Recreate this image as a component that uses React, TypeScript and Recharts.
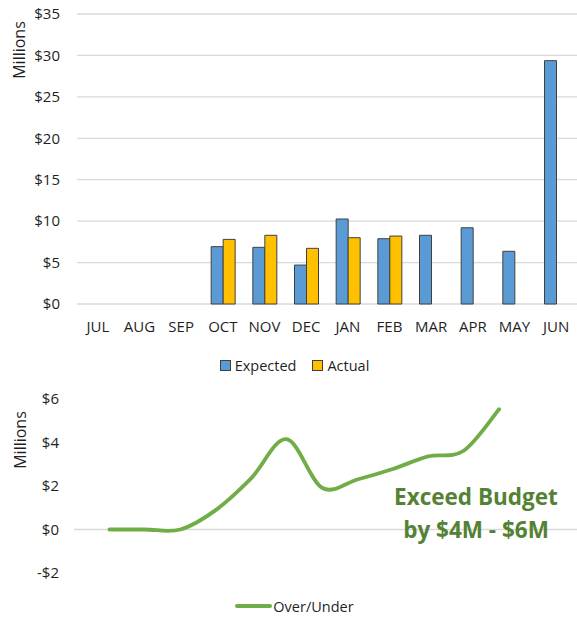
import React from 'react';
import { BarChart, Bar, LineChart, Line, XAxis, YAxis, CartesianGrid, Legend, ReferenceLine, Label } from 'recharts';

const months = ['JUL', 'AUG', 'SEP', 'OCT', 'NOV', 'DEC', 'JAN', 'FEB', 'MAR', 'APR', 'MAY', 'JUN'];
const expected = [null, null, null, 6.92, 6.84, 4.7, 10.26, 7.88, 8.29, 9.2, 6.36, 29.37];
const actual = [null, null, null, 7.8, 8.29, 6.72, 8.0, 8.2, null, null, null, null];
const overUnder = [0, 0, 0, 0.89, 2.35, 4.15, 1.92, 2.3, 2.78, 3.36, 3.62, 5.53];
const barTicks = [0, 5, 10, 15, 20, 25, 30, 35];
const lineTicks = [-2, 0, 2, 4, 6];
const calloutLines = ['Exceed Budget', 'by $4M - $6M'];

const BLUE = '#5B9BD5';
const GOLD = '#FFC000';
const GREEN = '#70AD47';
const DARK_GREEN = '#548235';
const TEXT = '#1f1f1f';
const GRID = '#d9d9d9';
const FONT = '"Open Sans", "Noto Sans", sans-serif';

const barData = months.map((m, i) => ({ month: m, Expected: expected[i], Actual: actual[i] }));
const lineData = months.map((m, i) => ({ idx: i, month: m, 'Over/Under': overUnder[i] }));

// Excel-like smoothed line (Catmull-Rom, 1/6 tangents)
const excelCurve = (context: any) => {
  let pts: number[][] = [];
  return {
    areaStart() {},
    areaEnd() {},
    lineStart() { pts = []; },
    point(x: number, y: number) { pts.push([+x, +y]); },
    lineEnd() {
      if (!pts.length) return;
      context.moveTo(pts[0][0], pts[0][1]);
      for (let i = 0; i < pts.length - 1; i++) {
        const p0 = pts[i - 1] || pts[i];
        const p1 = pts[i];
        const p2 = pts[i + 1];
        const p3 = pts[i + 2] || p2;
        context.bezierCurveTo(
          p1[0] + (p2[0] - p0[0]) / 6, p1[1] + (p2[1] - p0[1]) / 6,
          p2[0] - (p3[0] - p1[0]) / 6, p2[1] - (p3[1] - p1[1]) / 6,
          p2[0], p2[1]
        );
      }
    },
  };
};

const money = (v: number) => (v < 0 ? `-$${-v}` : `$${v}`);

const BarLegend = () => (
  <div style={{ display: 'flex', justifyContent: 'center', alignItems: 'center', height: 20, paddingLeft: 12, fontFamily: FONT, fontSize: 14.5, color: TEXT }}>
    {[['Expected', BLUE], ['Actual', GOLD]].map(([name, c]) => (
      <div key={name} style={{ display: 'flex', alignItems: 'center', margin: '0 8px' }}>
        <span style={{ display: 'inline-block', width: 9, height: 9, background: c, border: '1px solid #404040', marginRight: 4 }} />
        <span>{name}</span>
      </div>
    ))}
  </div>
);

const LineLegend = () => (
  <div style={{ display: 'flex', justifyContent: 'center', alignItems: 'center', height: 20, paddingLeft: 12, fontFamily: FONT, fontSize: 14.5, color: TEXT }}>
    <span style={{ display: 'inline-block', width: 37, height: 3.5, background: GREEN, borderRadius: 2, marginRight: 1 }} />
    <span>Over/Under</span>
  </div>
);

const millions = (x: number, y: number) => () => (
  <text x={x} y={y} transform={`rotate(-90 ${x} ${y})`} textAnchor="middle" dominantBaseline="central" fontFamily={FONT} fontSize={16} fill={TEXT}>
    Millions
  </text>
);

export default function App() {
  return (
    <div style={{ position: 'absolute', left: 0, top: 0, width: 577, height: 618, background: '#fff' }}>
      <BarChart width={577} height={385} data={barData} margin={{ top: 14, right: 0, left: 0, bottom: 10 }} barCategoryGap="22%" barGap={0}>
        <CartesianGrid vertical={false} stroke={GRID} strokeWidth={1.3} />
        <XAxis dataKey="month" height={51} axisLine={false} tickLine={false} tickSize={0} tickMargin={17} interval={0}
          tick={{ fill: TEXT, fontSize: 15, fontFamily: FONT }} />
        <YAxis width={77} domain={[0, 35]} ticks={barTicks} axisLine={false} tickLine={false} tickSize={0} tickMargin={17}
          tickFormatter={money} tick={{ fill: TEXT, fontSize: 15, fontFamily: FONT }}>
          <Label content={millions(18.5, 50)} />
        </YAxis>
        <Legend verticalAlign="bottom" content={<BarLegend />} />
        <Bar dataKey="Expected" fill={BLUE} stroke="#404040" strokeWidth={1} isAnimationActive={false} />
        <Bar dataKey="Actual" fill={GOLD} stroke="#404040" strokeWidth={1} isAnimationActive={false} />
      </BarChart>
      <LineChart width={577} height={233} data={lineData} margin={{ top: 14, right: 0, left: 0, bottom: 2 }}>
        <XAxis dataKey="idx" type="number" domain={[-1, 13.2]} height={23} axisLine={false} tickLine={false} tick={false} />
        <YAxis width={74} domain={[-2, 6]} ticks={lineTicks} axisLine={false} tickLine={false} tickSize={0} tickMargin={15}
          tickFormatter={money} tick={{ fill: TEXT, fontSize: 15, fontFamily: FONT }}>
          <Label content={millions(19.5, 55)} />
        </YAxis>
        <ReferenceLine y={0} stroke={GRID} strokeWidth={1.3} />
        <Legend verticalAlign="bottom" content={<LineLegend />} />
        <Line dataKey="Over/Under" type={excelCurve as any} stroke={GREEN} strokeWidth={3.8} strokeLinecap="round" dot={false} activeDot={false} isAnimationActive={false} />
      </LineChart>
      <svg width={577} height={618} style={{ position: 'absolute', left: 0, top: 0, pointerEvents: 'none' }}>
        {calloutLines.map((t, i) => (
          <text key={t} x={476} y={505 + i * 33} textAnchor="middle" fontFamily={FONT} fontWeight="bold" fontSize={22.5} fill={DARK_GREEN}>
            {t}
          </text>
        ))}
      </svg>
    </div>
  );
}
